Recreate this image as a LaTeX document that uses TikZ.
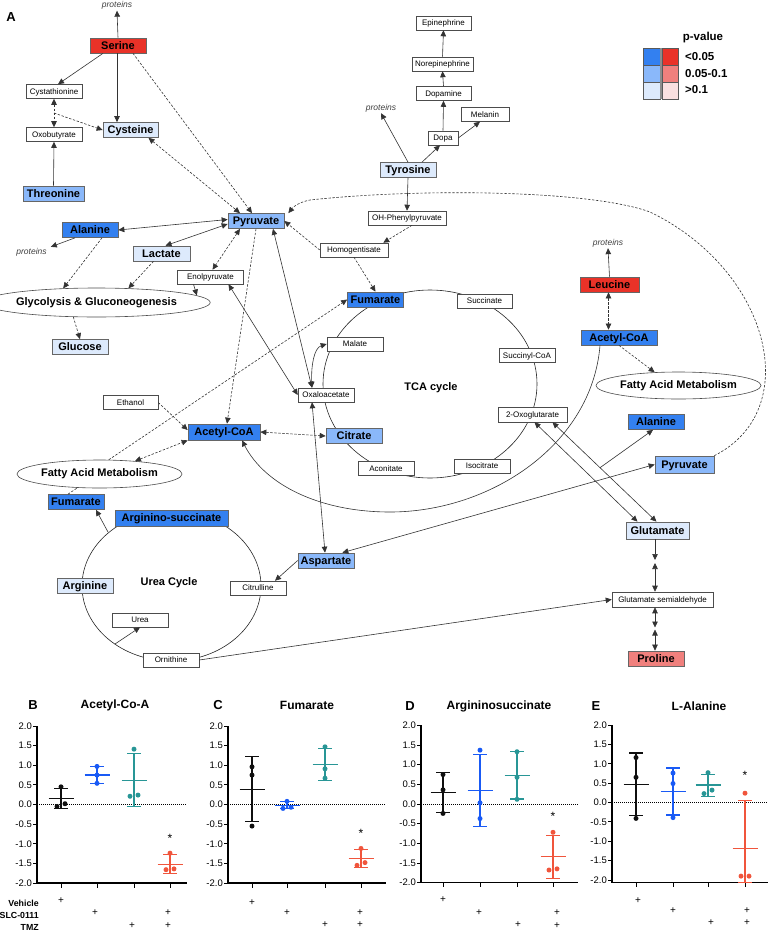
\documentclass[tikz,border=0pt]{standalone}
\usepackage{fontspec}
\setmainfont{Liberation Sans}
\usetikzlibrary{arrows.meta,shapes.geometric,calc}
\definecolor{bD}{RGB}{51,128,240}
\definecolor{bM}{RGB}{138,184,250}
\definecolor{bL}{RGB}{221,234,252}
\definecolor{rD}{RGB}{233,50,40}
\definecolor{rM}{RGB}{240,128,125}
\definecolor{rL}{RGB}{250,224,224}
\definecolor{cBlk}{RGB}{15,15,15}
\definecolor{cBlu}{RGB}{25,90,245}
\definecolor{cTeal}{RGB}{40,150,150}
\definecolor{cRed}{RGB}{240,85,60}
\tikzset{
  met/.style={draw=black!60, line width=0.7pt, font=\bfseries\fontsize{11}{12}\selectfont, minimum height=15pt, inner sep=0pt, text depth=0pt},
  sml/.style={draw=black!70, fill=white, line width=0.55pt, font=\fontsize{8}{9}\selectfont, minimum height=14pt, minimum width=56pt, inner sep=0pt, text depth=0pt},
  pathw/.style={ellipse, draw=black!70, fill=white, line width=0.6pt, font=\bfseries\fontsize{11}{12}\selectfont, inner sep=0pt},
  prot/.style={font=\itshape\fontsize{8.5}{9}\selectfont, text=black!75, inner sep=1pt},
  lbl/.style={font=\bfseries\fontsize{11}{12}\selectfont, inner sep=0pt},
  ln/.style={draw=black!80, line width=0.6pt},
  dsh/.style={ln, dash pattern=on 2.4pt off 1.6pt},
  arw/.style={-{Triangle[length=6pt,width=5.5pt]}},
  darw/.style={{Triangle[length=6pt,width=5.5pt]}-{Triangle[length=6pt,width=5.5pt]}},
  ticklab/.style={font=\fontsize{9.5}{10}\selectfont, inner sep=0pt, anchor=east},
  ctitle/.style={font=\bfseries\fontsize{12}{13}\selectfont, inner sep=0pt},
  pletter/.style={font=\bfseries\fontsize{13}{14}\selectfont, inner sep=0pt},
  trt/.style={font=\bfseries\fontsize{8.8}{9}\selectfont, inner sep=0pt, anchor=east},
  plus/.style={font=\fontsize{10}{10}\selectfont, inner sep=0pt},
  starlab/.style={font=\fontsize{12}{12}\selectfont, inner sep=0pt},
}
\newcommand\chartaxes[3]{%
  \draw[line width=1.3pt] (0,#3) -- (0,2);
  \foreach \v [count=\i] in {2.0,1.5,1.0,0.5,0.0,-0.5,-1.0,-1.5,-2.0}{
    \draw[line width=0.9pt] (-4,\v) -- (0,\v);
    \node[ticklab] (#1tk\i) at (-5,\v) {\v};
  }
  \draw[line width=1.3pt] (0,#3) -- (#2,#3);
  \draw[line width=0.7pt, dash pattern=on 1pt off 1pt] (0,0) -- (#2,0);
}
\newcommand\chartgrp[6]{%
  \draw[#2, line width=1.2pt] (#1,#4) -- (#1,#5);
  \draw[#2, line width=1.2pt] ({#1-7},#4) -- ({#1+7},#4);
  \draw[#2, line width=1.2pt] ({#1-7},#5) -- ({#1+7},#5);
  \draw[#2, line width=1.2pt] ({#1-12.5},#3) -- ({#1+12.5},#3);
  \foreach \pdx/\pvv in {#6} \fill[#2] ({#1+\pdx},\pvv) circle[radius=2.5pt];
}
\begin{document}
\begin{tikzpicture}[x=1pt,y=-1pt]
\useasboundingbox (0,0) rectangle (772,937);
% ---------- cycles ----------
\draw[line width=0.6pt, black!85] (430,384) ellipse [x radius=107pt, y radius=94pt];
\draw[line width=0.6pt, black!85] (171.5,586) ellipse [x radius=89.5pt, y radius=75pt];
\node[lbl] (tcalab) at (431,388) {TCA cycle};
\node[lbl] (urealab) at (169,583) {Urea Cycle};
\node[pletter] (labA) at (11,17) {A};
% ---------- coloured metabolites ----------
\node[met, fill=rD, minimum width=56pt] (serine) at (118,45.5) {Serine};
\node[met, fill=bL, minimum width=55pt] (cysteine) at (130.5,130) {Cysteine};
\node[met, fill=bM, minimum width=61pt] (threonine) at (53.5,193.5) {Threonine};
\node[met, fill=bM, minimum width=56pt] (pyr) at (256,221) {Pyruvate};
\node[met, fill=bD, minimum width=56pt] (alaL) at (90,230) {Alanine};
\node[met, fill=bL, minimum width=57pt] (lactate) at (161.5,253.5) {Lactate};
\node[met, fill=bL, minimum width=56pt] (glucose) at (80,347) {Glucose};
\node[met, fill=bL, minimum width=56pt] (tyrosine) at (408,170) {Tyrosine};
\node[met, fill=bD, minimum width=56pt] (fumT) at (375.5,299.5) {Fumarate};
\node[met, fill=bD, minimum width=72pt, minimum height=16pt] (acoa) at (224,432) {Acetyl-CoA};
\node[met, fill=bM, minimum width=56pt] (citrate) at (354,436) {Citrate};
\node[met, fill=rD, minimum width=59pt] (leucine) at (609.5,284.5) {Leucine};
\node[met, fill=bD, minimum width=76pt] (acoaR) at (619,337.5) {Acetyl-CoA};
\node[met, fill=bD, minimum width=56pt] (alaR) at (656,422) {Alanine};
\node[met, fill=bM, minimum width=59pt, minimum height=17pt] (pyrR) at (684.5,464.5) {Pyruvate};
\node[met, fill=bL, minimum width=63pt, minimum height=17pt] (glu) at (657.5,530.5) {Glutamate};
\node[met, fill=rM, minimum width=56pt] (proline) at (656,658.5) {Proline};
\node[met, fill=bD, minimum width=56pt] (fumL) at (76,502) {Fumarate};
\node[met, fill=bD, minimum width=113pt, minimum height=16pt] (argsuc) at (171.5,518) {Arginino-succinate};
\node[met, fill=bL, minimum width=56pt] (arginine) at (85,586) {Arginine};
\node[met, fill=bM, minimum width=56pt] (asp) at (326,560.5) {Aspartate};
% ---------- plain metabolites ----------
\node[sml] (cysta) at (54,91.5) {Cystathionine};
\node[sml] (oxo) at (54,134.5) {Oxobutyrate};
\node[sml, minimum width=66pt] (enol) at (210.5,277) {Enolpyruvate};
\node[sml, minimum width=68pt] (homog) at (354,250) {Homogentisate};
\node[sml, minimum width=78pt] (ohpp) at (407,218) {OH-Phenylpyruvate};
\node[sml, minimum width=30pt] (dopa) at (443,138) {Dopa};
\node[sml, minimum width=48pt] (melanin) at (485,114.5) {Melanin};
\node[sml, minimum width=55pt] (dopamine) at (443.5,93.5) {Dopamine};
\node[sml, minimum width=61pt] (norepi) at (442.5,64) {Norepinephrine};
\node[sml, minimum width=55pt] (epi) at (443.5,23) {Epinephrine};
\node[sml, minimum width=55pt] (succinate) at (484.5,301) {Succinate};
\node[sml] (malate) at (355,344) {Malate};
\node[sml] (succoa) at (527,355.5) {Succinyl-CoA};
\node[sml] (oxa) at (326,395) {Oxaloacetate};
\node[sml, minimum width=69pt, minimum height=15pt] (ogl) at (532.5,414.5) {2-Oxoglutarate};
\node[sml, minimum width=55pt] (ethanol) at (130.5,402.5) {Ethanol};
\node[sml] (aconitate) at (386,468.5) {Aconitate};
\node[sml] (isocitrate) at (482,466) {Isocitrate};
\node[sml] (citr) at (258,588) {Citrulline};
\node[sml] (urea) at (140,620) {Urea};
\node[sml] (orn) at (171,660) {Ornithine};
\node[sml, minimum width=101pt, minimum height=15pt] (gsa) at (662.5,599.5) {Glutamate semialdehyde};
% ---------- pathways ----------
\node[pathw, minimum width=193pt, minimum height=29pt] (glyc) at (96.5,302.5) {Glycolysis \& Gluconeogenesis};
\node[pathw, minimum width=157pt, minimum height=28pt] (fatL) at (99.5,474) {Fatty Acid Metabolism};
\node[pathw, minimum width=159pt, minimum height=27pt] (fatR) at (678.5,385.5) {Fatty Acid Metabolism};
% ---------- proteins ----------
\node[prot] (protT) at (117,5.5) {proteins};
\node[prot] (protL) at (31.5,252) {proteins};
\node[prot] (protTy) at (381,108) {proteins};
\node[prot] (protLeu) at (608,243) {proteins};
% ---------- connectors ----------
\draw[ln,arw] (serine.north) -- (protT.south);
\draw[ln,arw] ([xshift=-15pt]serine.south) -- ([xshift=4pt]cysta.north);
\draw[ln,arw] ([xshift=-1pt]serine.south) -- ([xshift=-1pt]serine.south |- cysteine.north);
\draw[dsh,arw] ([xshift=15pt]serine.south) -- ([xshift=-4pt]pyr.north);
\draw[dsh,darw] (cysta.south) -- (oxo.north);
\draw[dsh,arw] ($(cysta.south)!0.5!(oxo.north)$) -- (cysteine.west);
\draw[ln,arw] (threonine.north) -- (oxo.south);
\draw[dsh,darw] ([xshift=18pt]cysteine.south) -- ([xshift=-16pt]pyr.north);
\draw[ln,arw] (tyrosine.north) -- (protTy.south);
\draw[ln,arw] ([xshift=14pt]tyrosine.north) -- ([xshift=-3pt]dopa.south);
\draw[ln,arw] (dopa.east) -- ([xshift=-5pt]melanin.south);
\draw[ln,arw] (dopa.north) -- (dopamine.south);
\draw[ln,arw] (dopamine.north) -- (norepi.south);
\draw[ln,arw] (norepi.north) -- (epi.south);
\draw[ln,arw] (tyrosine.south) -- (ohpp.north);
\draw[dsh,arw] ([xshift=5pt]ohpp.south) -- ([xshift=-5pt]homog.north east);
\draw[dsh,arw] (homog.west) -- (pyr.east);
\draw[dsh,arw] (homog.south) -- (fumT.north);
\draw[dsh,arw] (pyrR.north east) .. controls (805,410) and (770,270) .. (650,212) .. controls (590,190) and (420,188) .. (310,200) .. controls (300,202) and (294,206) .. ([xshift=4pt]pyr.north east);
\draw[ln,darw] (alaL.east) -- ([yshift=1.5pt]pyr.west);
\draw[ln,arw] ([xshift=-15pt]alaL.south) -- ([xshift=3pt]protL.north east);
\draw[dsh,arw] ([xshift=12pt]alaL.south) -- (glyc.157);
\draw[ln,darw] ([xshift=4pt]lactate.north) -- ([yshift=-3pt]pyr.west);
\draw[dsh,arw] ([xshift=-8pt]lactate.south) -- (glyc.24);
\draw[dsh,darw] ([xshift=-16pt]pyr.south) -- ([xshift=2pt]enol.north);
\draw[ln,arw] ([xshift=-17pt]enol.south) -- (glyc.4);
\draw[dsh,arw] (glyc.-148) -- (glucose.north);
\draw[dsh,arw] (pyr.south) -- ([xshift=3pt]acoa.north);
\draw[ln,darw] ([xshift=17pt]pyr.south) -- ([xshift=-14pt]oxa.north);
\draw[ln,darw] ([xshift=18pt]enol.south) -- (oxa.west);
\draw[ln,darw] (malate.west) .. controls (314,348) and (311,366) .. ([xshift=-14pt]oxa.north);
\draw[dsh,arw] (ethanol.east) -- ([yshift=2pt]acoa.west);
\draw[dsh,darw] (acoa.east) -- (citrate.west);
\draw[dsh,arw] (fatL.57) -- (fumT.west);
\draw[dsh,darw] (fatL.20) -- (acoa.south west);
\draw[dsh] ([xshift=-8pt]fumL.north) -- (fatL.-148);
\coordinate (uc1) at (108,532);
\draw[ln,arw] (uc1) -- ([xshift=20pt]fumL.south);
\draw[ln,darw] ([xshift=-14pt]oxa.south) -- ([xshift=-1pt]asp.north);
\draw[ln,arw] (asp.west) -- ([xshift=17pt]citr.north);
\coordinate (uc2) at (115,644);
\draw[ln,arw] (uc2) -- (urea.south);
\draw[ln,arw] (orn.east) -- (gsa.west);
\draw[ln,darw] ([xshift=-12pt]asp.north east) -- (pyrR.west);
\draw[ln,arw] ([xshift=-19pt]acoaR.south) .. controls (592,445) and (490,512) .. (390,512) .. controls (320,512) and (265,485) .. ([xshift=18pt]acoa.south);
\draw[ln,darw] ([xshift=2pt]ogl.south) -- ([xshift=-20pt]glu.north);
\draw[ln,darw] ([xshift=20pt]ogl.south) -- ([xshift=-1pt]glu.north);
\coordinate (br) at ($([xshift=20pt]ogl.south)!0.457!([xshift=-1pt]glu.north)$);
\draw[ln,arw] (br) -- ([xshift=-3pt]alaR.south);
\coordinate (m1) at (655,561.5);
\draw[ln,arw] (glu.south -| m1) -- ([yshift=1.5pt]m1);
\draw[ln,darw] ([yshift=-1.5pt]m1) -- (m1 |- gsa.north);
\coordinate (m2) at (655,628.5);
\draw[ln,darw] (m2 |- gsa.south) -- ([yshift=1pt]m2);
\draw[ln,darw] ([yshift=-1pt]m2) -- (m2 |- proline.north);
\draw[ln,arw] (leucine.north) -- (protLeu.south);
\draw[dsh,darw] ([xshift=-1pt]leucine.south) -- ([xshift=-1pt]leucine.south |- acoaR.north);
\draw[dsh,arw] (acoaR.south) -- (fatR.151);
% ---------- legend ----------
\node[font=\bfseries\fontsize{11.5}{12}\selectfont, inner sep=0pt] (pv) at (703,38) {p-value};
\draw[black!65, line width=0.6pt, fill=bD] (643,48) rectangle (660,65.5);
\draw[black!65, line width=0.6pt, fill=bM] (643,65.5) rectangle (660,82.5);
\draw[black!65, line width=0.6pt, fill=bL] (643,82.5) rectangle (660,99);
\draw[black!65, line width=0.6pt, fill=rD] (662,48) rectangle (678,65.5);
\draw[black!65, line width=0.6pt, fill=rM] (662,65.5) rectangle (678,82.5);
\draw[black!65, line width=0.6pt, fill=rL] (662,82.5) rectangle (678,99);
\fill[black!45] (660,48) rectangle (662,99);
\node[font=\bfseries\fontsize{11.5}{12}\selectfont, inner sep=0pt, anchor=west] (pv1) at (685,56.5) {<0.05};
\node[font=\bfseries\fontsize{11.5}{12}\selectfont, inner sep=0pt, anchor=west] (pv2) at (685,73.5) {0.05-0.1};
\node[font=\bfseries\fontsize{11.5}{12}\selectfont, inner sep=0pt, anchor=west] (pv3) at (685,90) {>0.1};
% ---------- panel B ----------
\node[pletter] (labB) at (33,705) {B};
\node[ctitle] (tB) at (115,705) {Acetyl-Co-A};
\begin{scope}[shift={(37,804.5)}, y=39.25pt]
  \chartaxes{B}{150}{-2}
  \foreach \gx in {24,60,97,133} \draw[line width=1pt] (\gx,-2) -- ++(0,-4.5pt);
  \chartgrp{24}{cBlk}{0.15}{-0.11}{0.41}{0/0.45,-4/-0.05,4/0.02}
  \chartgrp{60}{cBlu}{0.75}{0.54}{0.97}{0/0.97,0/0.75,0/0.54}
  \chartgrp{97}{cTeal}{0.62}{-0.06}{1.30}{0/1.41,-4/0.21,4/0.24}
  \chartgrp{133}{cRed}{-1.52}{-1.75}{-1.27}{0/-1.24,-4/-1.66,4/-1.64}
  \node[starlab] (sB) at (133,-0.86) {*};
\end{scope}
% ---------- panel C ----------
\node[pletter] (labC) at (218,705) {C};
\node[ctitle] (tC) at (307,705) {Fumarate};
\begin{scope}[shift={(228,804.5)}, y=39.25pt]
  \chartaxes{C}{158}{-2}
  \foreach \gx in {24,59,97,133} \draw[line width=1pt] (\gx,-2) -- ++(0,-4.5pt);
  \chartgrp{24}{cBlk}{0.39}{-0.43}{1.22}{0/0.96,0/0.75,0/-0.55}
  \chartgrp{59}{cBlu}{-0.03}{-0.11}{0.08}{0/0.08,-4/-0.1,4/-0.07}
  \chartgrp{97}{cTeal}{1.02}{0.62}{1.42}{0/1.47,0/0.91,0/0.67}
  \chartgrp{133}{cRed}{-1.38}{-1.60}{-1.14}{0/-1.12,-4/-1.55,4/-1.48}
  \node[starlab] (sC) at (133,-0.74) {*};
\end{scope}
% ---------- panel D ----------
\node[pletter] (labD) at (410,706) {D};
\node[ctitle] (tD) at (499,706) {Argininosuccinate};
\begin{scope}[shift={(421,804)}, y=39.3pt]
  \chartaxes{D}{157}{-2}
  \foreach \gx in {22,59,96,132} \draw[line width=1pt] (\gx,-2) -- ++(0,-4.5pt);
  \chartgrp{22}{cBlk}{0.29}{-0.22}{0.80}{0/0.75,0/0.36,0/-0.24}
  \chartgrp{59}{cBlu}{0.34}{-0.58}{1.26}{0/1.37,0/0.03,0/-0.37}
  \chartgrp{96}{cTeal}{0.72}{0.13}{1.33}{0/1.33,0/0.68,0/0.12}
  \chartgrp{132}{cRed}{-1.34}{-1.89}{-0.80}{0/-0.72,-4/-1.68,4/-1.65}
  \node[starlab] (sD) at (132,-0.32) {*};
\end{scope}
% ---------- panel E ----------
\node[pletter] (labE) at (596,706) {E};
\node[ctitle] (tE) at (699,706) {L-Alanine};
\begin{scope}[shift={(612,802.5)}, y=38.75pt]
  \chartaxes{E}{156}{-2.07}
  \foreach \gx in {24,61,96,133} \draw[line width=1pt] (\gx,-2.07) -- ++(0,-4.5pt);
  \chartgrp{24}{cBlk}{0.47}{-0.34}{1.28}{0/1.16,0/0.65,0/-0.41}
  \chartgrp{61}{cBlu}{0.28}{-0.32}{0.89}{0/0.76,0/0.49,0/-0.39}
  \chartgrp{96}{cTeal}{0.45}{0.16}{0.72}{0/0.77,-4/0.23,4/0.32}
  \chartgrp{133}{cRed}{-1.18}{-2.07}{0.05}{0/0.24,-4/-1.9,4/-1.9}
  \node[starlab] (sE) at (133,0.70) {*};
\end{scope}
% ---------- treatments ----------
\node[trt] (tv) at (39,903) {Vehicle};
\node[trt] (ts) at (39,915) {SLC-0111};
\node[trt] (tt) at (39,927) {TMZ};
\node[plus] (pB1) at (61,901) {+};
\node[plus] (pB2) at (95,913) {+};
\node[plus] (pB3) at (168,913) {+};
\node[plus] (pB4) at (132,926) {+};
\node[plus] (pB5) at (168,926) {+};
\node[plus] (pC1) at (252,903) {+};
\node[plus] (pC2) at (287,913) {+};
\node[plus] (pC3) at (360,913) {+};
\node[plus] (pC4) at (325,925) {+};
\node[plus] (pC5) at (360,925) {+};
\node[plus] (pD1) at (443,900) {+};
\node[plus] (pD2) at (479,913) {+};
\node[plus] (pD3) at (557,913) {+};
\node[plus] (pD4) at (518,925) {+};
\node[plus] (pD5) at (557,926) {+};
\node[plus] (pE1) at (638,901) {+};
\node[plus] (pE2) at (673,911) {+};
\node[plus] (pE3) at (747,911) {+};
\node[plus] (pE4) at (711,923) {+};
\node[plus] (pE5) at (747,923) {+};
\end{tikzpicture}
\end{document}
